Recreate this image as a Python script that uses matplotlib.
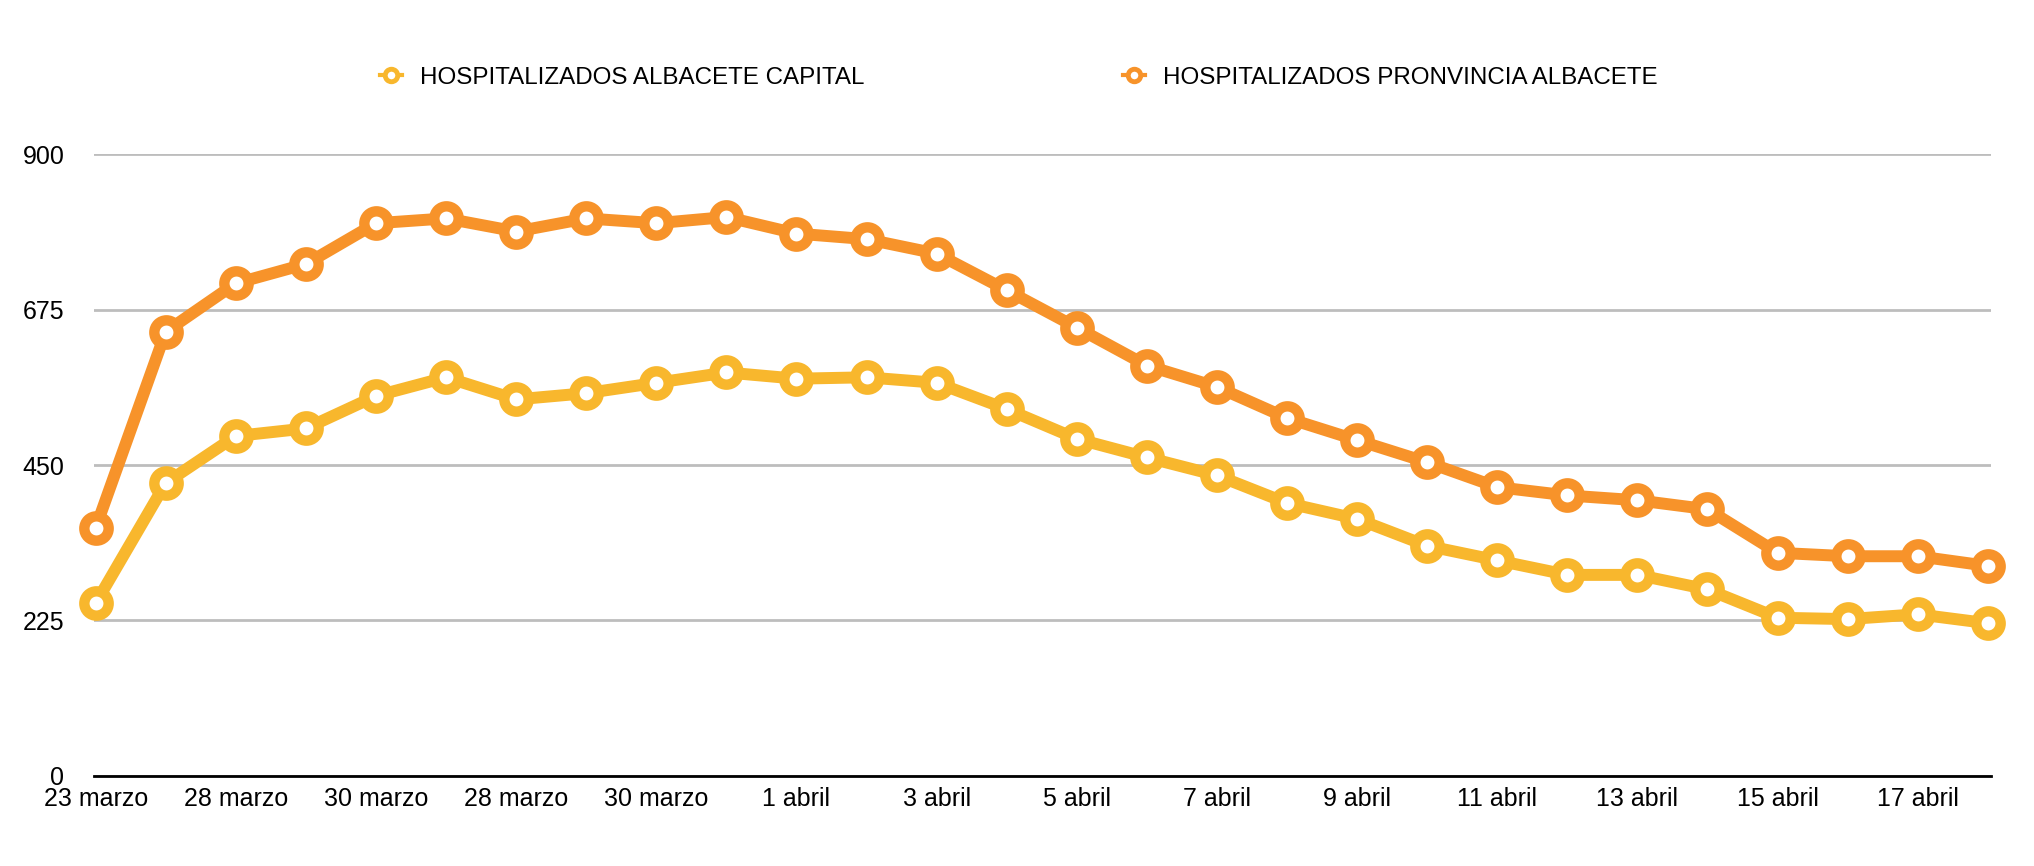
import numpy as np
import matplotlib.pyplot as plt
from matplotlib.lines import Line2D

plt.rcParams['font.family'] = ['Liberation Sans', 'DejaVu Sans']

# Daily hospitalised counts
provincia = [359, 643, 713, 741, 800, 807, 788, 807, 800, 809, 785, 777, 756, 703,
             649, 594, 563, 518, 486, 454, 418, 406, 399, 386, 323, 318, 318, 304]
capital = [250, 424, 492, 503, 550, 577, 545, 554, 569, 584, 575, 577, 569, 531,
           488, 461, 435, 395, 372, 333, 312, 291, 291, 270, 229, 227, 234, 221]

tick_labels = ["23 marzo", "28 marzo", "30 marzo", "28 marzo", "30 marzo", "1 abril", "3 abril",
               "5 abril", "7 abril", "9 abril", "11 abril", "13 abril", "15 abril", "17 abril"]

yellow = "#F8B72D"
orange = "#F7932A"

x = np.arange(len(capital))

fig = plt.figure(figsize=(20.34, 8.66), dpi=100)
ax = fig.add_axes([0.046, 0.104, 0.933, 0.718])

style = dict(lw=8.6, marker="o", markersize=17.5, markeredgewidth=7.5,
             markerfacecolor="white", solid_joinstyle="round", clip_on=False)
ax.plot(x, capital, color=yellow, markeredgecolor=yellow, zorder=3, **style)
ax.plot(x, provincia, color=orange, markeredgecolor=orange, zorder=4, **style)

ax.set_ylim(0, 900)
ax.set_yticks([0, 225, 450, 675, 900])
ax.set_xlim(-0.03, 27.05)
ax.set_xticks(x[::2])
ax.set_xticklabels(tick_labels)
ax.tick_params(axis="both", length=0, labelsize=18)
ax.tick_params(axis="y", pad=21)
ax.tick_params(axis="x", pad=8)

ax.grid(axis="y", color="#BDBDBD", lw=2)
ax.set_axisbelow(True)
for s in ["top", "right", "left"]:
    ax.spines[s].set_visible(False)
ax.spines["bottom"].set_linewidth(2)
ax.spines["bottom"].set_color("black")
ax.spines["bottom"].set_zorder(5)

handles = [
    Line2D([], [], color=yellow, lw=3, marker="o", markersize=9, markeredgewidth=3.5,
           markerfacecolor="white", markeredgecolor=yellow),
    Line2D([], [], color=orange, lw=3, marker="o", markersize=9, markeredgewidth=3.5,
           markerfacecolor="white", markeredgecolor=orange),
]
fig.legend(handles, ["HOSPITALIZADOS ALBACETE CAPITAL", "HOSPITALIZADOS PRONVINCIA ALBACETE"],
           loc="center", bbox_to_anchor=(0.5008, 0.91), ncol=2, frameon=False,
           fontsize=17.4, handlelength=0.9, handletextpad=0.75, columnspacing=10.7)

fig.savefig("out.png", dpi=100)
